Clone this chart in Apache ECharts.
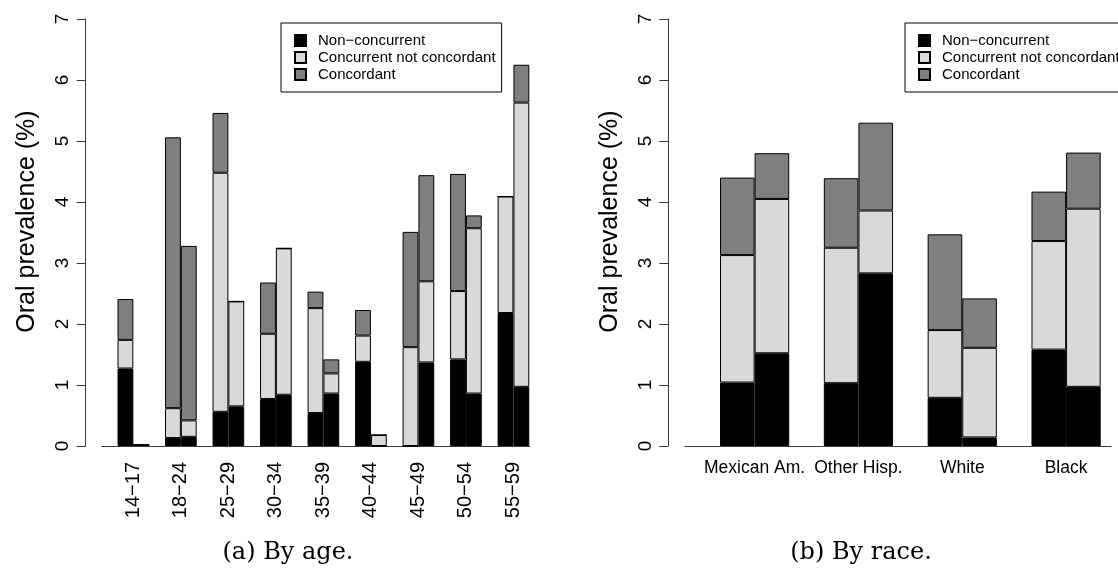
<!DOCTYPE html>
<html>
<head>
<meta charset="utf-8">
<script src="https://cdn.jsdelivr.net/npm/echarts@6/dist/echarts.min.js"></script>
<style>
  html, body { margin: 0; padding: 0; background: #fff; }
  #chart { width: 1118px; height: 578px; }
</style>
</head>
<body>
<div id="chart"></div>
<script>
// ---- data: oral prevalence (%) split into three components ----
const seriesNames = ['Non\u2212concurrent', 'Concurrent not concordant', 'Concordant'];
const yTicks = [0, 7, 1]; // min, max, step

// (a) by age: two stacked bars per age group
const ageGroups = ['14\u221217', '18\u221224', '25\u221229', '30\u221234', '35\u221239',
                   '40\u221244', '45\u221249', '50\u221254', '55\u221259'];
const ageNonConc1 = [1.27, 0.13, 0.56, 0.77, 0.54, 1.38, 0.00, 1.42, 2.18];
const ageNotConc1 = [0.47, 0.49, 3.92, 1.07, 1.72, 0.43, 1.62, 1.12, 1.91];
const ageConc1    = [0.67, 4.44, 0.98, 0.84, 0.27, 0.42, 1.89, 1.92, 0.00];
const ageNonConc2 = [0.02, 0.15, 0.65, 0.84, 0.86, 0.00, 1.37, 0.86, 0.97];
const ageNotConc2 = [0.00, 0.27, 1.72, 2.40, 0.33, 0.18, 1.33, 2.71, 4.66];
const ageConc2    = [0.00, 2.86, 0.00, 0.00, 0.23, 0.00, 1.74, 0.21, 0.62];

// (b) by race: two stacked bars per group
const raceGroups = ['Mexican Am.', 'Other Hisp.', 'White', 'Black'];
const raceNonConc1 = [1.04, 1.03, 0.79, 1.58];
const raceNotConc1 = [2.09, 2.22, 1.11, 1.78];
const raceConc1    = [1.27, 1.14, 1.57, 0.81];
const raceNonConc2 = [1.52, 2.83, 0.14, 0.97];
const raceNotConc2 = [2.53, 1.03, 1.47, 2.92];
const raceConc2    = [0.75, 1.44, 0.81, 0.92];

const captions = ['(a) By age.', '(b) By race.'];

// ---- styling ----
const fills = ['#000000', '#d9d9d9', '#7f7f7f'];
const sans = '"Liberation Sans", Arial, Helvetica, sans-serif';
const serif = '"DejaVu Serif", serif';
const axisGray = '#3a3a3a';

function stackSeries(xIdx, yIdx, stackKey, cols) {
  return cols.map((vals, i) => ({
    name: seriesNames[i],
    type: 'bar',
    xAxisIndex: xIdx,
    yAxisIndex: yIdx,
    stack: stackKey,
    data: vals,
    barGap: '0%',
    barCategoryGap: '33.333%',
    itemStyle: { color: fills[i], borderColor: '#000', borderWidth: 1 },
    emphasis: { disabled: true },
    silent: true
  }));
}

function valueYAxis(grid, offset) {
  return {
    type: 'value', gridIndex: grid, position: 'left', offset: offset,
    min: yTicks[0], max: yTicks[1], interval: yTicks[2],
    axisLine: { show: true, lineStyle: { color: axisGray, width: 1 } },
    axisTick: { show: true, length: 9, lineStyle: { color: axisGray } },
    axisLabel: { rotate: 90, fontFamily: sans, fontSize: 19, color: '#000', margin: 13 },
    splitLine: { show: false },
    name: 'Oral prevalence (%)', nameLocation: 'middle', nameRotate: 90, nameGap: 46,
    // left padding nudges the rotated title a little upward along the axis
    nameTextStyle: { fontFamily: sans, fontSize: 25, color: '#000', padding: [0, 0, 0, 22] }
  };
}
function hiddenYAxis(grid) {
  return { type: 'value', gridIndex: grid, min: yTicks[0], max: yTicks[1], show: false };
}
function baselineXAxis(grid) {
  return {
    type: 'value', gridIndex: grid, min: 0, max: 1,
    axisLine: { show: true, onZero: false, lineStyle: { color: axisGray, width: 1 } },
    axisTick: { show: false }, axisLabel: { show: false }, splitLine: { show: false }
  };
}
function legendAt(left) {
  return {
    left: left, top: 23, orient: 'vertical',
    icon: 'rect', itemWidth: 11, itemHeight: 11, itemGap: 2,
    borderColor: '#000', borderWidth: 1, borderRadius: 0,
    padding: [10, 6, 10, 13],
    selectedMode: false,
    data: seriesNames,
    textStyle: { fontFamily: sans, fontSize: 15, lineHeight: 15, color: '#000', padding: [0, 0, 0, 7] }
  };
}

const chart = echarts.init(document.getElementById('chart'), null, { renderer: 'canvas' });
chart.setOption({
  animation: false,
  backgroundColor: '#fff',
  grid: [
    { left: 109.6, top: 19, width: 427.6, height: 427 },   // age bars
    { left: 101.7, top: 19, width: 428.1, height: 427 },   // age baseline
    { left: 702.7, top: 19, width: 425.0, height: 427 },   // race bars
    { left: 685.0, top: 19, width: 426.0, height: 427 }    // race baseline
  ],
  xAxis: [
    {
      type: 'category', gridIndex: 0, data: ageGroups,
      axisLine: { show: false }, axisTick: { show: false },
      axisLabel: { rotate: 90, interval: 0, fontFamily: sans, fontSize: 20, color: '#000', margin: 16 }
    },
    baselineXAxis(1),
    {
      type: 'category', gridIndex: 2, data: raceGroups,
      axisLine: { show: false }, axisTick: { show: false },
      axisLabel: { interval: 0, fontFamily: sans, fontSize: 17.5, color: '#000', margin: 13 }
    },
    baselineXAxis(3)
  ],
  yAxis: [valueYAxis(0, 23.9), hiddenYAxis(1), valueYAxis(2, 34.4), hiddenYAxis(3)],
  legend: [legendAt(281), legendAt(905)],
  series: [].concat(
    stackSeries(0, 0, 'age1', [ageNonConc1, ageNotConc1, ageConc1]),
    stackSeries(0, 0, 'age2', [ageNonConc2, ageNotConc2, ageConc2]),
    stackSeries(2, 2, 'race1', [raceNonConc1, raceNotConc1, raceConc1]),
    stackSeries(2, 2, 'race2', [raceNonConc2, raceNotConc2, raceConc2])
  ),
  graphic: [
    { type: 'text', x: 288, y: 553, style: { text: captions[0], font: '24px ' + serif, fill: '#000', textAlign: 'center', textVerticalAlign: 'middle' } },
    { type: 'text', x: 861, y: 553, style: { text: captions[1], font: '24px ' + serif, fill: '#000', textAlign: 'center', textVerticalAlign: 'middle' } }
  ]
});
</script>
</body>
</html>
